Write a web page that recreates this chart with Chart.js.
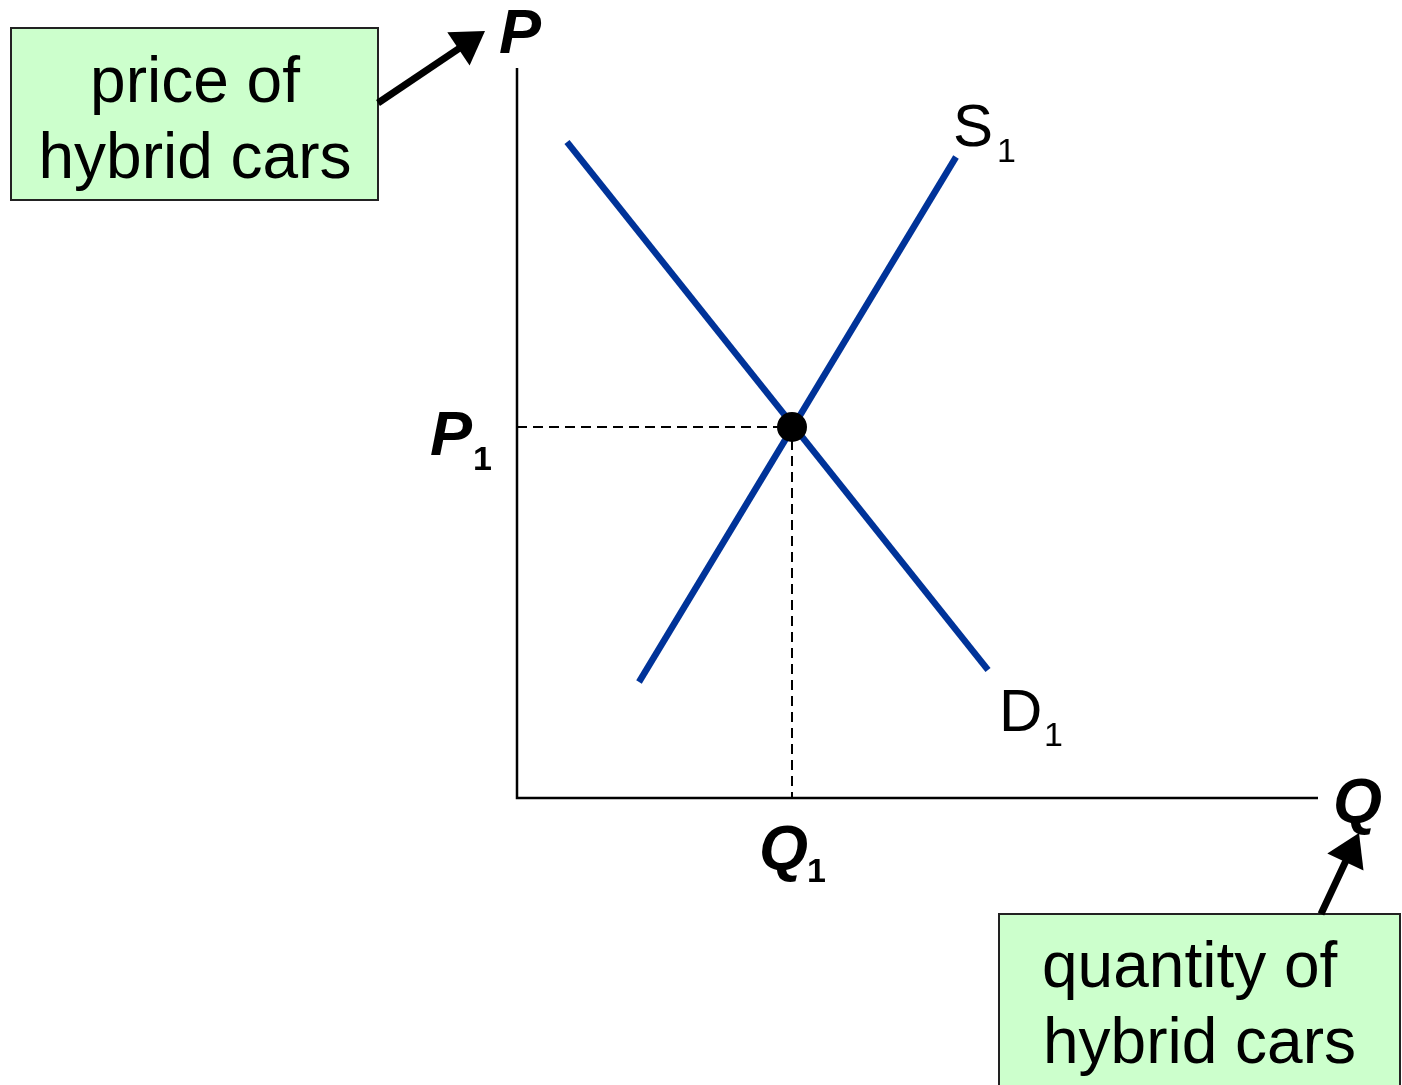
<!DOCTYPE html>
<html>
<head>
<meta charset="utf-8">
<script src="https://cdn.jsdelivr.net/npm/chart.js@4/dist/chart.umd.min.js"></script>
<style>
  html, body { margin: 0; padding: 0; background: #fff; }
  #wrap { width: 1402px; height: 1085px; }
</style>
</head>
<body>
<div id="wrap"><canvas id="sd"></canvas></div>
<script>
// quantity / price in plot units (0..801 along Q, 0..730 along P)
const demandQ = [50, 471];
const demandP = [656, 128];
const supplyQ = [122, 439];
const supplyP = [116, 641];
const eqQ = 275;
const eqP = 371;

const BLUE = '#003399';

function pts(xs, ys) {
  return xs.map((x, i) => ({ x, y: ys[i] }));
}

// axes, arrows, boxes and labels
const decorations = {
  id: 'decorations',
  afterDatasetsDraw(chart) {
    const c = chart.ctx;
    const a = chart.chartArea;
    const sx = chart.scales.x, sy = chart.scales.y;
    c.save();

    // axes
    c.strokeStyle = '#000';
    c.lineWidth = 2.5;
    c.beginPath();
    c.moveTo(a.left, a.top);
    c.lineTo(a.left, a.bottom);
    c.lineTo(a.right, a.bottom);
    c.stroke();

    c.fillStyle = '#000';
    c.textBaseline = 'alphabetic';
    c.font = 'italic bold 63px "Liberation Sans", Arial, sans-serif';
    c.textAlign = 'left';
    c.fillText('P', a.left - 18, a.top - 15);
    c.fillText('Q', a.right + 15, a.bottom + 24);

    // P1 / Q1
    const py = sy.getPixelForValue(eqP);
    const qx = sx.getPixelForValue(eqQ);
    c.font = 'italic bold 63px "Liberation Sans", Arial, sans-serif';
    c.fillText('P', a.left - 87, py + 28);
    c.fillText('Q', qx - 33, a.bottom + 71);
    c.font = 'bold 34px "Liberation Sans", Arial, sans-serif';
    c.fillText('1', a.left - 44, py + 43);
    c.fillText('1', qx + 15, a.bottom + 84);

    // S1 / D1
    const sEnd = supplyQ.length - 1;
    const sxp = sx.getPixelForValue(supplyQ[sEnd]);
    const syp = sy.getPixelForValue(supplyP[sEnd]);
    c.font = '60px "Liberation Sans", Arial, sans-serif';
    c.fillText('S', sxp - 3, syp - 11);
    c.font = '34px "Liberation Sans", Arial, sans-serif';
    c.fillText('1', sxp + 41, syp + 5);
    const dEnd = demandQ.length - 1;
    const dxp = sx.getPixelForValue(demandQ[dEnd]);
    const dyp = sy.getPixelForValue(demandP[dEnd]);
    c.font = '60px "Liberation Sans", Arial, sans-serif';
    c.fillText('D', dxp + 11, dyp + 61);
    c.font = '34px "Liberation Sans", Arial, sans-serif';
    c.fillText('1', dxp + 56, dyp + 76);

    // label boxes
    function box(x0, y0, x1, y1) {
      c.fillStyle = '#ccffcc';
      c.fillRect(x0, y0, x1 - x0, y1 - y0);
      c.strokeStyle = '#222';
      c.lineWidth = 2;
      c.strokeRect(x0, y0, x1 - x0, y1 - y0);
    }
    box(11, 28, 378, 200);
    box(999, 914, 1400, 1095);
    c.fillStyle = '#000';
    c.font = '64px "Liberation Sans", Arial, sans-serif';
    c.textAlign = 'center';
    c.fillText('price of', 195, 102);
    c.fillText('hybrid cars', 195, 178);
    c.textAlign = 'left';
    c.fillText('quantity of', 1042, 987);
    c.fillText('hybrid cars', 1043, 1063);

    // arrows
    function arrow(x0, y0, x1, y1) {
      const ang = Math.atan2(y1 - y0, x1 - x0);
      const hl = 32, hw = 20;
      const bx = x1 - hl * Math.cos(ang), by = y1 - hl * Math.sin(ang);
      c.strokeStyle = '#000';
      c.lineWidth = 7;
      c.beginPath();
      c.moveTo(x0, y0);
      c.lineTo(bx + 4 * Math.cos(ang), by + 4 * Math.sin(ang));
      c.stroke();
      c.fillStyle = '#000';
      c.beginPath();
      c.moveTo(x1, y1);
      c.lineTo(bx - hw * Math.sin(ang), by + hw * Math.cos(ang));
      c.lineTo(bx + hw * Math.sin(ang), by - hw * Math.cos(ang));
      c.closePath();
      c.fill();
    }
    arrow(378, 103, 485, 31);
    arrow(1321, 914, 1359, 833);

    c.restore();
  }
};

new Chart(document.getElementById('sd'), {
  type: 'scatter',
  data: {
    datasets: [
      {
        label: 'equilibrium',
        data: [{ x: eqQ, y: eqP }],
        pointRadius: 15,
        pointBackgroundColor: '#000',
        pointBorderWidth: 0
      },
      {
        label: 'D1',
        data: pts(demandQ, demandP),
        showLine: true,
        borderColor: BLUE,
        borderWidth: 6.5,
        pointRadius: 0
      },
      {
        label: 'S1',
        data: pts(supplyQ, supplyP),
        showLine: true,
        borderColor: BLUE,
        borderWidth: 6.5,
        pointRadius: 0
      },
      {
        label: 'guides',
        data: [{ x: 0, y: eqP }, { x: eqQ, y: eqP }, { x: eqQ, y: 0 }],
        showLine: true,
        borderColor: '#000',
        borderWidth: 2,
        borderDash: [10, 6],
        pointRadius: 0,
        tension: 0
      }
    ]
  },
  options: {
    responsive: true,
    maintainAspectRatio: false,
    animation: false,
    layout: { padding: { left: 517, right: 84, top: 68, bottom: 287 } },
    plugins: { legend: { display: false }, tooltip: { enabled: false } },
    scales: {
      x: { type: 'linear', min: 0, max: 801, display: false },
      y: { type: 'linear', min: 0, max: 730, display: false }
    }
  },
  plugins: [decorations]
});
</script>
</body>
</html>
